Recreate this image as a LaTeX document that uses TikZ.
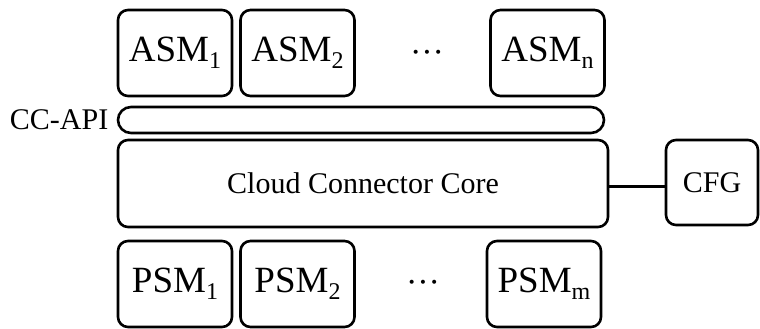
\documentclass[tikz,border=0pt]{standalone}
\usepackage{fontspec}
\setmainfont{Liberation Serif}
\usetikzlibrary{positioning}
\newcommand\idx[1]{\raisebox{-3.5pt}{\fontsize{12}{12}\selectfont#1}}
\begin{document}
\begin{tikzpicture}[x=0.5pt,y=-0.5pt,
  module/.style={draw, line width=1.3pt, rounded corners=5pt, inner sep=0pt,
    minimum width=57pt, minimum height=43pt, font=\fontsize{18.5}{18.5}\selectfont},
  layer/.style={draw, line width=1.3pt, rounded corners=5pt, inner sep=0pt,
    font=\fontsize{15}{15}\selectfont},
  gap/.style={font=\fontsize{17}{17}\selectfont}]
  \useasboundingbox (0,0) rectangle (760,328);
  % application side modules
  \node[module] (asm1) at (175,53) {ASM\idx{1}};
  \node[module] (asm2) at (297.5,53) {ASM\idx{2}};
  \node[gap] (asmdots) at (427,57) {···};
  \node[module] (asmn) at (547.5,53) {ASM\idx{n}};
  % api bar and core
  \node[layer, rounded corners=6.5pt, minimum width=243pt, minimum height=13pt] (api) at (361,120) {};
  \node[font=\fontsize{15}{15}\selectfont, inner sep=0pt, left=4pt of api] (apilabel) {CC-API};
  \node[layer, minimum width=245pt, minimum height=43.5pt] (core) at (363,183.5) {Cloud Connector Core};
  \node[layer, minimum width=46pt, minimum height=42.5pt] (cfg) at (712,182.5) {CFG};
  \draw[line width=1.3pt] ([yshift=-1.5pt]core.east) -- ([yshift=-2pt]cfg.west);
  % platform side modules
  \node[module] (psm1) at (175,284) {PSM\idx{1}};
  \node[module] (psm2) at (297.5,284) {PSM\idx{2}};
  \node[gap] (psmdots) at (423,287) {···};
  \node[module] (psmm) at (544,284) {PSM\idx{m}};
\end{tikzpicture}
\end{document}
